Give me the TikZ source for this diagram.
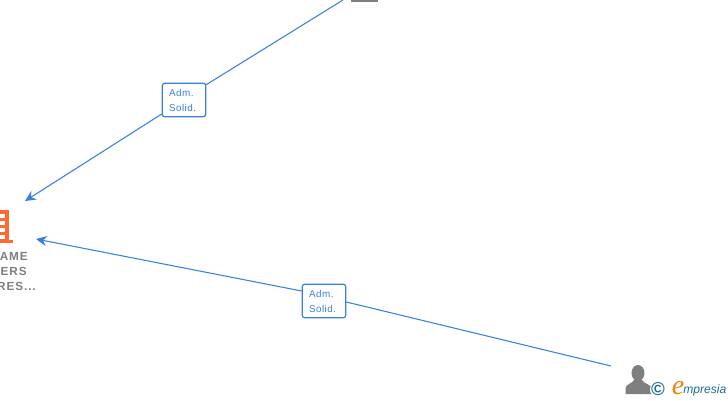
\documentclass[tikz,border=0pt]{standalone}
\usepackage{fontspec}
\setmainfont{Liberation Sans}
\newfontfamily\brandserif{Liberation Serif}
\usetikzlibrary{arrows.meta}
\definecolor{linkblue}{HTML}{3A80E0}
\definecolor{iconorange}{HTML}{FF6A33}
\definecolor{icongrey}{HTML}{7F7F7F}
\definecolor{copyblue}{HTML}{1F6F8F}
\definecolor{brandorange}{HTML}{F08010}
\tikzset{
  x=0.75pt,y=-0.75pt,
  linkplain/.style={draw=linkblue,line width=0.8pt},
  linkline/.style={linkplain,-{Stealth[length=8pt,width=7.5pt]}},
  linkbox/.style={draw=linkblue,line width=0.9pt,rounded corners=1.6pt,fill=white,minimum width=32.5pt,minimum height=25pt,inner sep=0pt,inner xsep=5pt,align=left,text width=22.5pt,font=\fontsize{7.4}{11.25}\selectfont\addfontfeature{LetterSpace=5},text=linkblue},
  caption/.style={font=\fontsize{8.8}{12}\selectfont\bfseries\addfontfeature{LetterSpace=8},text=icongrey,inner sep=0pt,anchor=base east}
}
\begin{document}
\begin{tikzpicture}
\useasboundingbox (0,0) rectangle (728,400);
\clip (0,0) rectangle (728,400);
\coordinate (topfree) at (343,0);
\coordinate (topend) at (25,201);
\coordinate (botfree) at (611,366);
\coordinate (botend) at (36,239);
\node[linkbox] (boxa) at (184,100) {Adm.\\Solid.};
\node[linkbox] (boxb) at (324,301) {\raisebox{-1.4pt}{Adm.}\\\raisebox{-1.4pt}{Solid.}};
\draw[linkplain] (topfree) -- ([yshift=11.5pt]boxa.east);
\draw[linkline] ([yshift=-10.5pt]boxa.west) -- (topend);
\draw[linkplain] (botfree) -- ([yshift=-0.75pt]boxb.east);
\draw[linkline] ([yshift=7.5pt]boxb.west) -- (botend);
% top node icon stub
\fill[icongrey] (351,0) rectangle (378,1.5);
% building icon
\fill[iconorange] (0,210) rectangle (8.5,243);
\fill[iconorange] (0,240) rectangle (13,243);
\fill[white] (0,214) rectangle (5,218);
\fill[white] (0,221) rectangle (5,225);
\fill[white] (0,228) rectangle (5,232);
\fill[white] (0,235) rectangle (5,239);
\node[caption] (capa) at (28,260) {AME};
\node[caption] (capb) at (27,275) {ERS};
\node[caption] (capc) at (36,290) {RES...};
% person icon
\fill[icongrey] (638,373) circle[x radius=6.5,y radius=8];
\fill[icongrey] (625.5,394) -- (625.5,388) .. controls (626,384) and (632,384) .. (635,379) -- (641,379) .. controls (644,384) and (650,384) .. (652,388) -- (652,394) -- cycle;
% brand
\fill[white] (658,389.5) circle[radius=8];
\node[text=copyblue,font=\fontsize{14}{14}\selectfont\bfseries,inner sep=0pt] (copy) at (658,389) {©};
\node[text=brandorange,font=\fontsize{21}{21}\selectfont\brandserif\itshape,inner sep=0pt,anchor=base] (ebrand) at (678,394) {e};
\node[text=copyblue,font=\fontsize{9.1}{10}\selectfont\itshape,inner sep=0pt,anchor=base west] (brand) at (683,393) {mpresia};
\end{tikzpicture}
\end{document}
